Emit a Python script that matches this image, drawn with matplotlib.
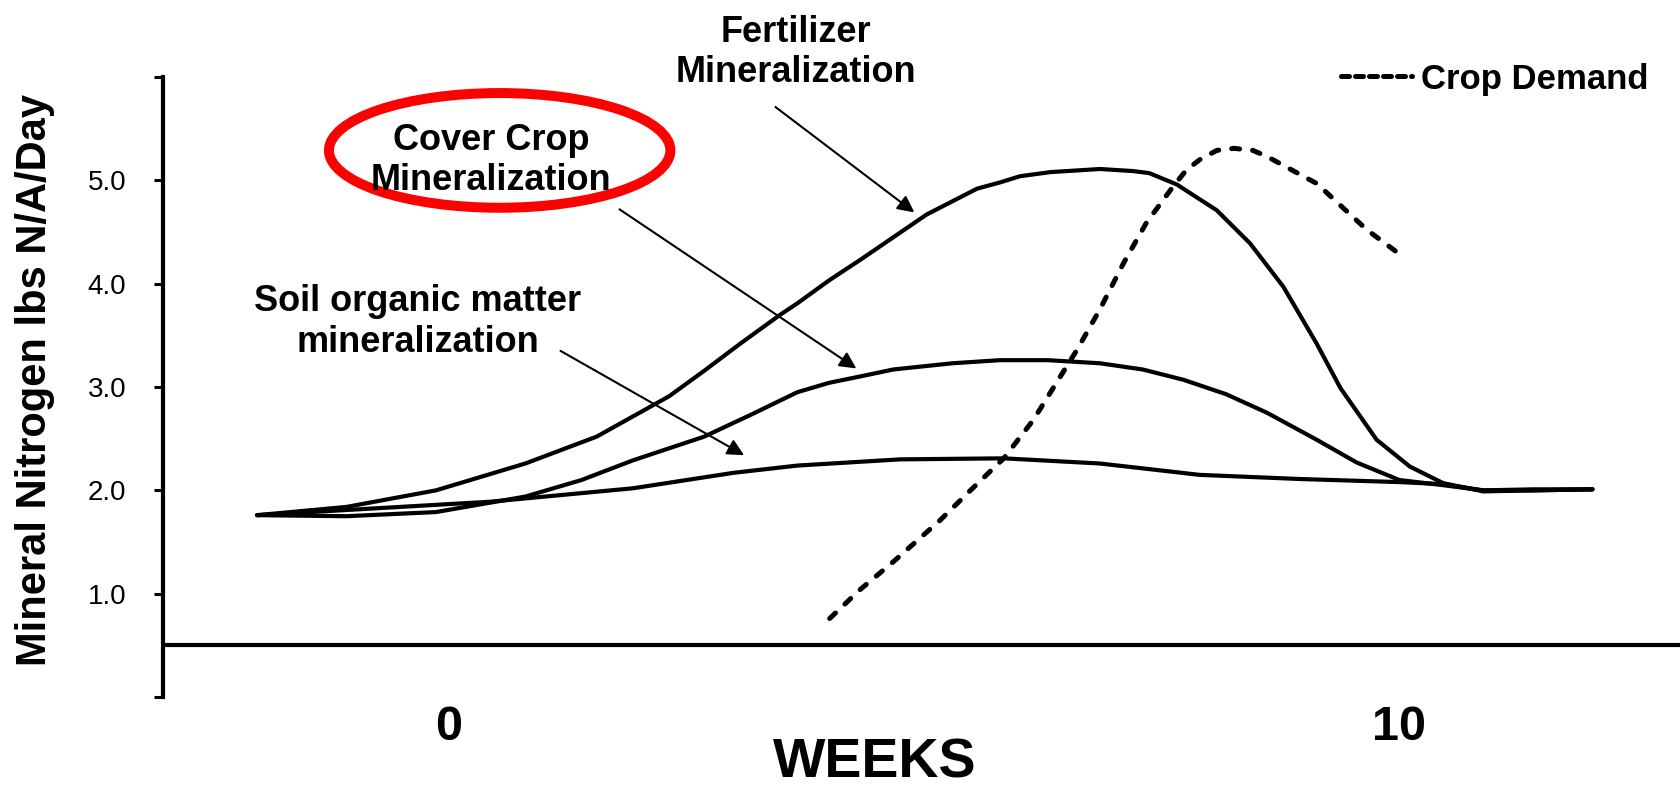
import matplotlib
matplotlib.use("Agg")
import matplotlib.pyplot as plt
from matplotlib.patches import Ellipse
from matplotlib.lines import Line2D

plt.rcParams['font.family'] = ['Liberation Sans', 'DejaVu Sans']

# weeks vs mineral N (lbs N/A/day)
soil_x = [-2.01, -1.07, 0.44, 1.94, 3.0, 3.67, 4.75, 5.84, 6.85, 7.90, 8.95, 10.0, 10.46, 10.88, 11.41, 12.03]
soil_y = [1.76, 1.81, 1.89, 2.02, 2.17, 2.24, 2.30, 2.31, 2.26, 2.15, 2.11, 2.08, 2.06, 2.00, 2.01, 2.01]

cover_x = [-2.01, -1.07, -0.13, 0.81, 1.40, 1.94, 2.69, 3.20, 3.67, 4.00, 4.37, 4.68, 5.30, 5.80, 6.30,
           6.85, 7.30, 7.73, 8.18, 8.61, 9.13, 9.55, 10.0, 10.46, 10.88, 11.41, 12.03]
cover_y = [1.76, 1.75, 1.79, 1.94, 2.10, 2.29, 2.52, 2.74, 2.95, 3.04, 3.11, 3.17, 3.23, 3.26, 3.26,
           3.23, 3.17, 3.07, 2.93, 2.75, 2.49, 2.27, 2.10, 2.05, 2.00, 2.00, 2.01]

fert_x = [-2.01, -1.07, -0.13, 0.81, 1.56, 2.32, 2.68, 3.07, 3.49, 3.67, 4.00, 4.33, 5.03, 5.56, 5.80,
          6.01, 6.33, 6.85, 7.20, 7.37, 7.66, 8.08, 8.43, 8.78, 9.13, 9.38, 9.76, 10.11, 10.46, 10.88,
          11.41, 12.03]
fert_y = [1.76, 1.84, 2.00, 2.26, 2.52, 2.91, 3.15, 3.42, 3.70, 3.81, 4.03, 4.23, 4.67, 4.92, 4.98,
          5.04, 5.08, 5.11, 5.09, 5.07, 4.96, 4.71, 4.39, 3.97, 3.42, 2.99, 2.49, 2.23, 2.07, 1.99,
          2.00, 2.01]

demand_x = [4.01, 4.33, 4.68, 5.17, 5.49, 5.84, 6.15, 6.38, 6.61, 6.85, 7.10, 7.34, 7.62, 7.76, 7.90,
            8.08, 8.26, 8.46, 8.61, 9.13, 9.66, 10.04]
demand_y = [0.76, 1.04, 1.31, 1.71, 2.00, 2.31, 2.68, 3.02, 3.36, 3.75, 4.20, 4.59, 4.94, 5.10, 5.20,
            5.29, 5.31, 5.29, 5.23, 4.97, 4.52, 4.26]

y_ticks = [0, 1, 2, 3, 4, 5, 6]
y_labels = ['', '1.0', '2.0', '3.0', '4.0', '5.0', '']
x_ticks = [0, 10]
x_labels = ['0', '10']

fig = plt.figure(figsize=(16.8, 7.91), dpi=100)
ax = fig.add_axes([0.097, 0.1188, 0.903, 0.7838])

lw = 3.0
for xs, ys in [(soil_x, soil_y), (cover_x, cover_y), (fert_x, fert_y)]:
    ax.plot(xs, ys, color='black', lw=lw, solid_capstyle='round', solid_joinstyle='round')
ax.plot(demand_x, demand_y, color='black', lw=3.6, dashes=(1.6, 2.6), dash_capstyle='round')

# horizontal baseline
ax.axhline(0.5, color='black', lw=3.0)

ax.set_xlim(-3, 12.95)
ax.set_ylim(0, 6)
for s in ['top', 'right', 'bottom']:
    ax.spines[s].set_visible(False)
ax.spines['left'].set_linewidth(3.0)

ax.set_yticks(y_ticks)
ax.set_yticklabels(y_labels, fontsize=20)
ax.tick_params(axis='y', direction='out', length=6.5, width=2.2, pad=20)
ax.set_xticks(x_ticks)
ax.set_xticklabels(x_labels, fontsize=35, fontweight='bold')
ax.tick_params(axis='x', length=0, pad=6)

ax.set_xlabel('WEEKS', fontsize=40, fontweight='bold')
ax.xaxis.label.set_va('bottom')
ax.xaxis.set_label_coords(0.469, -0.1495)
ax.set_ylabel('Mineral Nitrogen lbs N/A/Day', fontsize=30, fontweight='bold')
ax.yaxis.label.set_va('center')
ax.yaxis.set_label_coords(-0.0844, 0.511)

# annotations
txt = dict(fontsize=26, fontweight='bold', ha='center', va='center', annotation_clip=False)
arr = dict(arrowstyle='-|>', color='black', lw=1.5, mutation_scale=25, shrinkA=0, shrinkB=0)

ax.annotate('Fertilizer\nMineralization', xy=(3.66, 6.235), **txt)
ax.annotate('', xy=(4.90, 4.69), xytext=(3.44, 5.71), arrowprops=arr, annotation_clip=False)

ax.annotate('Cover Crop\nMineralization', xy=(0.45, 5.19), **txt)
ax.annotate('', xy=(4.29, 3.18), xytext=(1.80, 4.72), arrowprops=arr, annotation_clip=False)

ax.annotate('Soil organic matter\nmineralization', xy=(-0.32, 3.63), **txt)
ax.annotate('', xy=(3.11, 2.34), xytext=(1.18, 3.35), arrowprops=arr, annotation_clip=False)

ax.add_patch(Ellipse((0.54, 5.29), 3.59, 1.11, fill=False, edgecolor='#FF0000', lw=7.2))

handle = Line2D([], [], color='black', lw=3.6, dashes=(1.6, 1.2), dash_capstyle='round')
ax.legend([handle], ['Crop Demand'], loc='center left', bbox_to_anchor=(1341 / 1680, 1 - 79 / 791),
          bbox_transform=fig.transFigure, frameon=False, prop={'weight': 'bold', 'size': 25},
          handlelength=2.05, handletextpad=0.25, borderpad=0, borderaxespad=0)

fig.savefig('out.png', dpi=100)
